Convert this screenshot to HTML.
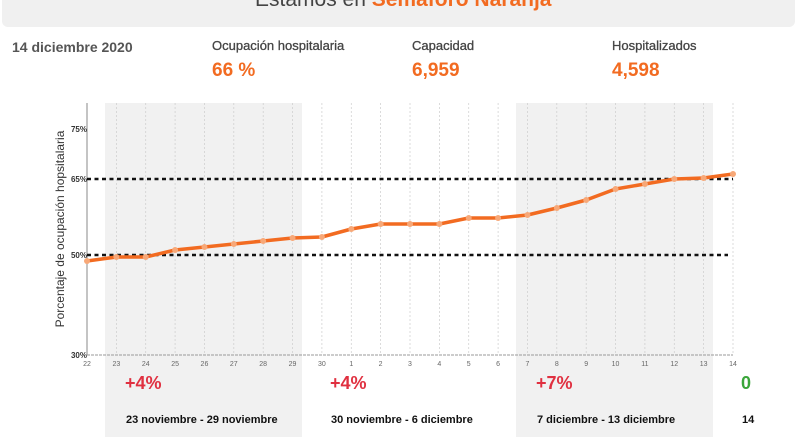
<!DOCTYPE html>
<html><head><meta charset="utf-8"><style>
body{margin:0;width:800px;height:445px;overflow:hidden;background:#fff;font-family:"Liberation Sans",sans-serif;position:relative}
.t{position:absolute;white-space:nowrap}
</style></head><body>
<div style="position:absolute;left:2px;top:-10px;width:793px;height:37px;background:#f0f0f0;border-radius:6px"></div>
<div class="t" style="left:255px;top:-12px;font-size:21px;color:#444">Estamos en <b style="color:#f26b21">Semáforo Naranja</b></div>
<div class="t" style="left:12px;top:39px;font-size:14px;font-weight:bold;color:#555">14 diciembre 2020</div>
<div class="t" style="left:212px;top:38px;font-size:13px;color:#444;-webkit-text-stroke:0.3px #444">Ocupación hospitalaria</div>
<div class="t" style="left:412px;top:38px;font-size:13px;color:#444;-webkit-text-stroke:0.3px #444">Capacidad</div>
<div class="t" style="left:612px;top:38px;font-size:13px;color:#444;-webkit-text-stroke:0.3px #444">Hospitalizados</div>
<div class="t" style="left:212px;top:60px;font-size:19px;font-weight:bold;color:#f26b21">66 %</div>
<div class="t" style="left:412px;top:60px;font-size:19px;font-weight:bold;color:#f26b21">6,959</div>
<div class="t" style="left:612px;top:60px;font-size:19px;font-weight:bold;color:#f26b21">4,598</div>
<svg width="800" height="445" style="position:absolute;left:0;top:0" font-family="Liberation Sans, sans-serif">
<rect x="105" y="103" width="197" height="334" fill="#f1f1f1"/>
<rect x="516" y="103" width="197" height="334" fill="#f1f1f1"/>
<g id="grid" stroke="#ccc" stroke-width="0.7" stroke-dasharray="2,2"></g>
<line x1="87" y1="103" x2="87" y2="355" stroke="#888"/>
<line x1="87" y1="355" x2="733" y2="355" stroke="#999" stroke-dasharray="3,1"/>
<g font-size="8" font-weight="bold" fill="#333" text-anchor="end">
<text x="87" y="132">75%</text><text x="87" y="182">65%</text><text x="87" y="258">50%</text><text x="87" y="358">30%</text></g>
<line x1="87" y1="179" x2="733" y2="179" stroke="#111" stroke-width="2.5" stroke-dasharray="4,3.5"/>
<line x1="87" y1="255" x2="728" y2="255" stroke="#111" stroke-width="2.5" stroke-dasharray="4,3.5"/>
<text transform="translate(64,229) rotate(-90)" font-size="12" fill="#333" text-anchor="middle">Porcentaje de ocupación hopsitalaria</text>
<g id="ticks" font-size="7" fill="#666" text-anchor="middle"></g>
<polyline id="ln" fill="none" stroke="#f26b21" stroke-width="3.5" stroke-linejoin="round"/>
<g id="pts" fill="#f7a878"></g>
<g font-size="18" font-weight="bold" fill="#e03040">
<text x="125" y="389">+4%</text><text x="330" y="389">+4%</text><text x="536" y="389">+7%</text></g>
<text x="741" y="389" font-size="18" font-weight="bold" fill="#3aa63a">0</text>
<g font-size="11" font-weight="bold" fill="#111">
<text x="126" y="423">23 noviembre - 29 noviembre</text>
<text x="331" y="423">30 noviembre - 6 diciembre</text>
<text x="537" y="423">7 diciembre - 13 diciembre</text>
<text x="742" y="423">14</text></g>
</svg>
<script>
var ys=[261,257,257,250,247,244,241,238,237,229,224,224,224,218,218,215,208,200,189,184,179,178,174];
var lb=[22,23,24,25,26,27,28,29,30,1,2,3,4,5,6,7,8,9,10,11,12,13,14];
var ns="http://www.w3.org/2000/svg",p=[],g=document.getElementById('grid'),tk=document.getElementById('ticks'),pt=document.getElementById('pts');
for(var i=0;i<23;i++){var x=87+i*646/22;p.push(x.toFixed(1)+','+ys[i]);
if(i>0){var l=document.createElementNS(ns,'line');l.setAttribute('x1',x);l.setAttribute('x2',x);l.setAttribute('y1',103);l.setAttribute('y2',355);g.appendChild(l);}
var t=document.createElementNS(ns,'text');t.setAttribute('x',x);t.setAttribute('y',366);t.textContent=lb[i];tk.appendChild(t);
var c=document.createElementNS(ns,'circle');c.setAttribute('cx',x);c.setAttribute('cy',ys[i]);c.setAttribute('r',3);pt.appendChild(c);}
document.getElementById('ln').setAttribute('points',p.join(' '));
</script>
</body></html>
